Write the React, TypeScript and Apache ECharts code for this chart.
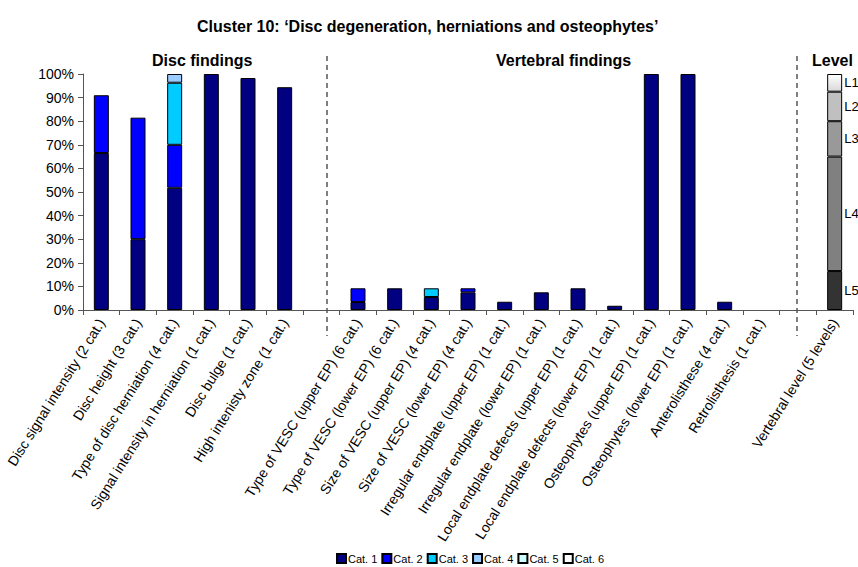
import React, { useEffect, useRef } from "react";
import * as echarts from "echarts";

const categories = [
  "Disc signal intensity (2 cat.)",
  "Disc height (3 cat.)",
  "Type of disc herniation (4 cat.)",
  "Signal intensity in herniation (1 cat.)",
  "Disc bulge (1 cat.)",
  "High intenisty zone (1 cat.)",
  " ",
  "Type of VESC (upper EP) (6 cat.)",
  "Type of VESC (lower EP) (6 cat.)",
  "Size of VESC (upper EP) (4 cat.)",
  "Size of VESC (lower EP) (4 cat.)",
  "Irregular endplate (upper EP) (1 cat.)",
  "Irregular endplate (lower EP) (1 cat.)",
  "Local endplate defects (upper EP) (1 cat.)",
  "Local endplate defects (lower EP) (1 cat.)",
  "Osteophytes (upper EP) (1 cat.)",
  "Osteophytes (lower EP) (1 cat.)",
  "Anterolisthese (4 cat.)",
  "Retrolisthesis (1 cat.)",
  "  ",
  "Vertebral level (5 levels)",
];

const cat1 = [66.5, 30, 51.8, 100, 98.3, 94.4, 0, 3.4, 9.2, 5.5, 7.5, 3.5, 7.5, 9.2, 1.8, 100, 100, 3.5, 0, 0, 0];
const cat2 = [24.5, 51.5, 18.2, 0, 0, 0, 0, 5.8, 0, 0, 1.7, 0, 0, 0, 0, 0, 0, 0, 0, 0, 0];
const cat3 = [0, 0, 26.3, 0, 0, 0, 0, 0, 0, 3.7, 0, 0, 0, 0, 0, 0, 0, 0, 0, 0, 0];
const cat4 = [0, 0, 3.7, 0, 0, 0, 0, 0, 0, 0, 0, 0, 0, 0, 0, 0, 0, 0, 0, 0, 0];
const cat5 = [0, 0, 0, 0, 0, 0, 0, 0, 0, 0, 0, 0, 0, 0, 0, 0, 0, 0, 0, 0, 0];
const cat6 = [0, 0, 0, 0, 0, 0, 0, 0, 0, 0, 0, 0, 0, 0, 0, 0, 0, 0, 0, 0, 0];

const catNames = ["Cat. 1", "Cat. 2", "Cat. 3", "Cat. 4", "Cat. 5", "Cat. 6"];
const catColors = ["#000080", "#0000ff", "#00ccff", "#99ccff", "#ccffff", "#ffffff"];

// Vertebral level distribution (bottom to top)
const levelNames = ["L5", "L4", "L3", "L2", "L1"];
const levelValues = [16.5, 48.5, 15, 12.5, 7.5];
const levelColors = ["#333333", "#808080", "#999999", "#c0c0c0", "#f0f0f0"];

const yTicks = [0, 10, 20, 30, 40, 50, 60, 70, 80, 90, 100];

export default function App() {
  const ref = useRef<HTMLDivElement>(null);
  useEffect(() => {
    if (!ref.current) return;
    const chart = echarts.init(ref.current, null, { renderer: "svg" });
    const font = "'Liberation Sans', Arial, sans-serif";
    const catData = [cat1, cat2, cat3, cat4, cat5, cat6];
    const toData = (arr: number[]) => arr.map((v) => (v === 0 ? "-" : v));

    const series: any[] = catData.map((arr, i) => ({
      name: catNames[i],
      type: "bar",
      stack: "total",
      barWidth: 15,
      data: toData(arr),
      itemStyle: { color: catColors[i], borderColor: "#000", borderWidth: 1 },
    }));
    levelValues.forEach((v, i) => {
      const d: any[] = categories.map(() => "-");
      d[categories.length - 1] = v;
      series.push({
        name: levelNames[i],
        type: "bar",
        stack: "total",
        barWidth: 15,
        data: d,
        itemStyle: {
          color:
            i === 4
              ? new echarts.graphic.LinearGradient(0, 0, 0, 1, [
                  { offset: 0, color: "#ffffff" },
                  { offset: 1, color: "#d8d8d8" },
                ])
              : levelColors[i],
          borderColor: "#000",
          borderWidth: 1,
        },
        label: {
          show: true,
          position: "right",
          distance: 2,
          formatter: levelNames[i],
          color: "#000",
          fontSize: 13,
          fontFamily: font,
        },
      });
    });

    const titleFont = `bold 16px ${font}`;
    chart.setOption({
      animation: false,
      textStyle: { fontFamily: font },
      title: {
        text: "Cluster 10: ‘Disc degeneration, herniations and osteophytes’",
        left: 192,
        top: 13,
        textStyle: { fontSize: 16, fontWeight: "bold", color: "#000", fontFamily: font },
      },
      legend: {
        data: catNames,
        top: 553,
        left: 336,
        padding: 0,
        itemWidth: 9,
        itemHeight: 9,
        itemGap: 4,
        icon: "rect",
        textStyle: { fontSize: 11, color: "#000", fontFamily: font, padding: [0, 0, 0, -3] },
      },
      grid: { left: 83, right: 5, top: 74, bottom: 257 },
      xAxis: {
        type: "category",
        data: categories,
        axisLine: { lineStyle: { color: "#555", width: 1 } },
        axisTick: { show: true, length: 5, alignWithLabel: false, lineStyle: { color: "#555" } },
        axisLabel: {
          interval: 0,
          rotate: 58,
          fontSize: 14,
          color: "#000",
          margin: 10,
          fontFamily: font,
        },
      },
      yAxis: {
        type: "value",
        min: 0,
        max: 100,
        interval: 10,
        splitLine: { show: false },
        axisLine: { show: true, lineStyle: { color: "#555", width: 1 } },
        axisTick: { show: true, length: 5, lineStyle: { color: "#555" } },
        axisLabel: {
          formatter: (v: number) => (yTicks.includes(v) ? v + "%" : ""),
          fontSize: 14,
          color: "#000",
          margin: 9,
          fontFamily: font,
        },
      },
      graphic: [
        {
          type: "text",
          left: 152,
          top: 52,
          style: { text: "Disc findings", fill: "#000", font: titleFont },
        },
        {
          type: "text",
          left: 496,
          top: 52,
          style: { text: "Vertebral findings", fill: "#000", font: titleFont },
        },
        {
          type: "text",
          left: 812,
          top: 52,
          style: { text: "Level", fill: "#000", font: titleFont },
        },
        {
          type: "line",
          shape: { x1: 327, y1: 56, x2: 327, y2: 336 },
          style: { stroke: "#000", lineWidth: 1, lineDash: [5, 4] },
        },
        {
          type: "line",
          shape: { x1: 797, y1: 56, x2: 797, y2: 336 },
          style: { stroke: "#000", lineWidth: 1, lineDash: [5, 4] },
        },
      ],
      series,
    });
    return () => chart.dispose();
  }, []);
  return (
    <div
      ref={ref}
      style={{ position: "absolute", left: 0, top: 0, width: 858, height: 567, background: "#fff" }}
    />
  );
}
